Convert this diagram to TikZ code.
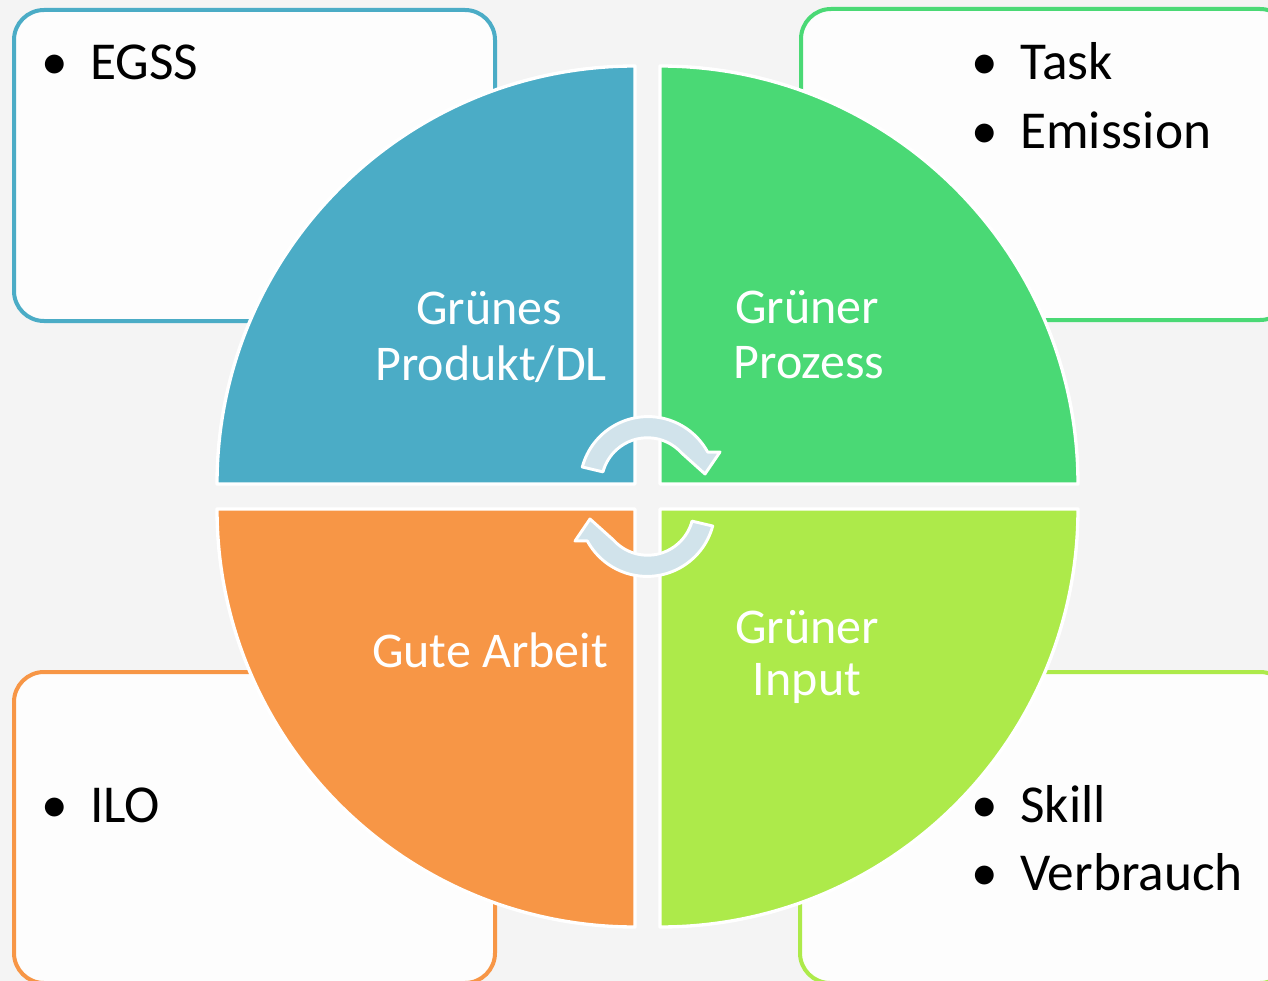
\documentclass[tikz,border=0pt]{standalone}
\usepackage{fontspec}
\setmainfont{Carlito}
\definecolor{bgc}{HTML}{F4F4F4}
\definecolor{boxfill}{HTML}{FDFDFD}
\definecolor{cblue}{HTML}{4BACC6}
\definecolor{cgreen}{HTML}{4AD975}
\definecolor{corange}{HTML}{F79646}
\definecolor{clime}{HTML}{ADEA4A}
\definecolor{carrow}{HTML}{D1E3EB}
\begin{document}
\begin{tikzpicture}[x=0.75pt,y=-0.75pt,
  infobox/.style={fill=boxfill, line width=3pt, rounded corners=22.5pt},
  quad/.style={draw=white, line width=2.5pt, line join=round},
  cyc/.style={fill=carrow, draw=white, line width=2.2pt, line join=round},
  lbl/.style={text=white, font=\fontsize{37.5}{45}\selectfont, inner sep=0pt, anchor=base},
  bul/.style={text=black, font=\fontsize{40}{48}\selectfont, inner sep=0pt, anchor=base},
  itm/.style={text=black, font=\fontsize{40}{48}\selectfont, inner sep=0pt, anchor=base west}]
\useasboundingbox (0,0) rectangle (1268,981);
\fill[bgc] (0,0) rectangle (1268,981);

% side boxes
\draw[infobox, draw=cblue] (14,10) rectangle (495,321);
\draw[infobox, draw=cgreen] (801,9) rectangle (1290,320);
\draw[infobox, draw=corange] (14,672) rectangle (495,983);
\draw[infobox, draw=clime] (800,672) rectangle (1290,983);

% quadrants
\filldraw[quad, fill=cblue] (635,484) -- (217,484) arc[start angle=180, end angle=270, radius=418] -- cycle;
\filldraw[quad, fill=cgreen] (660,484) -- (660,66) arc[start angle=270, end angle=360, radius=418] -- cycle;
\filldraw[quad, fill=clime] (660,509) -- (1078,509) arc[start angle=0, end angle=90, radius=418] -- cycle;
\filldraw[quad, fill=corange] (635,509) -- (635,927) arc[start angle=90, end angle=180, radius=418] -- cycle;

% cycle arrows
\filldraw[cyc] (582.3,467.0) arc[start angle=-165, end angle=-28.5, radius=68]
  -- (720,452) -- (705,474) -- (681.6,453.0)
  arc[start angle=-42, end angle=-165, radius=46] -- cycle;
\begin{scope}[rotate around={180:(647.5,496.5)}]
\filldraw[cyc] (582.3,467.0) arc[start angle=-165, end angle=-28.5, radius=68]
  -- (720,452) -- (705,474) -- (681.6,453.0)
  arc[start angle=-42, end angle=-165, radius=46] -- cycle;
\end{scope}

% quadrant labels
\node[lbl] (l1a) at (489,324) {Grünes};
\node[lbl] (l1b) at (491,380) {Produkt/DL};
\node[lbl] (l2a) at (807,323) {Grüner};
\node[lbl] (l2b) at (809,378) {Prozess};
\node[lbl] (l3a) at (490,667) {Gute Arbeit};
\node[lbl] (l4a) at (807,643) {Grüner};
\node[lbl] (l4b) at (807,695) {Input};

% box items
\node[bul] (b1) at (55,80) {•};
\node[itm] (i1) at (90,80) {EGSS};
\node[bul] (b2) at (985,80) {•};
\node[itm] (i2) at (1020,80) {Task};
\node[bul] (b3) at (985,148) {•};
\node[itm] (i3) at (1020,148) {Emission};
\node[bul] (b4) at (55,822) {•};
\node[itm] (i4) at (90,822) {ILO};
\node[bul] (b5) at (985,822) {•};
\node[itm] (i5) at (1020,822) {Skill};
\node[bul] (b6) at (985,890) {•};
\node[itm] (i6) at (1020,890) {Verbrauch};
\end{tikzpicture}
\end{document}
